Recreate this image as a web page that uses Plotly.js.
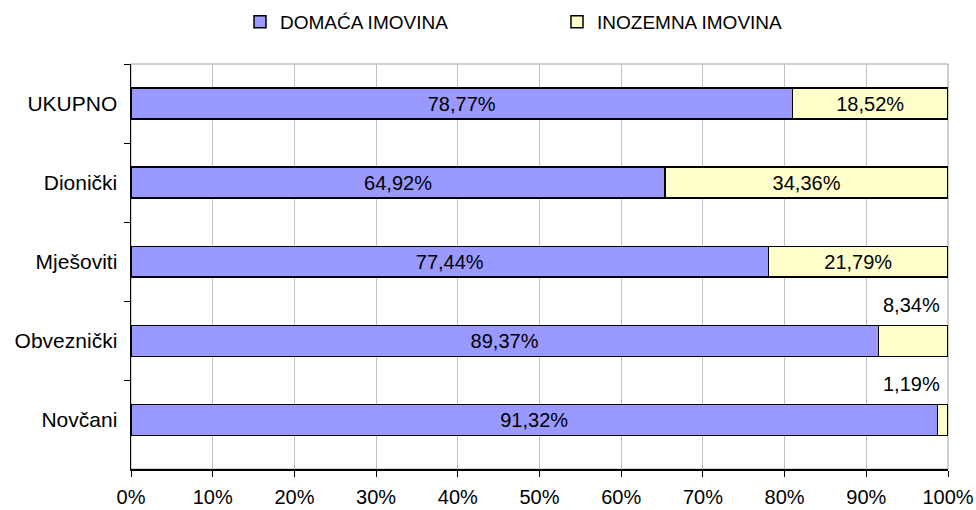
<!DOCTYPE html>
<html><head><meta charset="utf-8">
<script src="https://cdn.plot.ly/plotly-3.0.1.min.js"></script>
<style>body{margin:0;background:#fff}#c{width:976px;height:510px}</style>
</head><body><div id="c"></div>
<script>
const categories = ['UKUPNO','Dionički','Mješoviti','Obveznički','Novčani'];
const domestic = [78.77, 64.92, 77.44, 89.37, 91.32];
const foreign = [18.52, 34.36, 21.79, 8.34, 1.19];
const seriesNames = ['DOMAĆA IMOVINA','INOZEMNA IMOVINA'];
const smallLimit = 10;

const fmt = v => v.toFixed(2).replace('.', ',') + '%';
const font = {family:'Liberation Sans, Arial, sans-serif', size:20, color:'#000'};
const yfont = {family:'Liberation Sans, Arial, sans-serif', size:21, color:'#000'};

const traces = [
  {type:'bar', orientation:'h', name:seriesNames[0], y:categories, x:domestic,
   text:domestic.map(fmt), textposition:'inside', insidetextanchor:'middle', constraintext:'none',
   textfont:font, marker:{color:'#9999FF', line:{color:'#000', width:1.5}},
   width:0.39, hoverinfo:'x+y'},
  {type:'bar', orientation:'h', name:seriesNames[1], y:categories, x:foreign,
   text:foreign.map(v => v < smallLimit ? '' : fmt(v)), textposition:'inside', insidetextanchor:'middle', constraintext:'none',
   textfont:font, marker:{color:'#FFFFCC', line:{color:'#000', width:1.5}},
   width:0.39, hoverinfo:'x+y'}
];

const annotations = [];
foreign.forEach((v,i) => {
  if (v < smallLimit) annotations.push({x:100, y:categories[i], xref:'x', yref:'y', text:fmt(v),
    showarrow:false, xanchor:'right', yanchor:'middle', xshift:-6, yshift:36, font:font});
});

const layout = {
  width:976, height:510, margin:{l:131, r:28, t:64, b:41},
  paper_bgcolor:'#fff', plot_bgcolor:'#fff',
  barmode:'stack', barnorm:'percent',
  showlegend:true,
  legend:{orientation:'h', traceorder:'normal', x:240/976, xref:'container', xanchor:'left',
    y:1 - 3/510, yref:'container', yanchor:'top',
    font:{family:'Liberation Sans, Arial, sans-serif', size:19, color:'#000'},
    itemwidth:30, entrywidth:272, entrywidthmode:'pixels'},
  xaxis:{range:[0,100], dtick:10, ticksuffix:'%', showgrid:true, gridcolor:'#c0c0c0', gridwidth:1,
    showline:true, linecolor:'#000', linewidth:1.5, ticks:'outside', ticklen:6, tickcolor:'#000',
    tickfont:font, zeroline:false, fixedrange:true, ticklabelstandoff:3},
  yaxis:{autorange:'reversed', showline:true, linecolor:'#000', linewidth:1.5, ticks:'outside',
    tickson:'boundaries', ticklen:6, tickcolor:'#000', tickfont:yfont, showgrid:false, ticklabelstandoff:8},
  shapes:[{type:'rect', xref:'paper', yref:'paper', x0:0, x1:1, y0:0, y1:1, line:{color:'#a0a0a0', width:1}, layer:'below'}],
  annotations:annotations,
  font:font
};
Plotly.newPlot('c', traces, layout, {displayModeBar:false, staticPlot:true});
</script></body></html>
